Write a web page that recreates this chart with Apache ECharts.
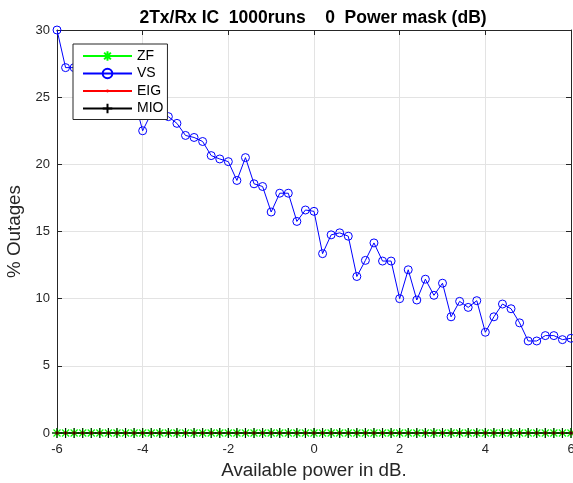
<!DOCTYPE html>
<html>
<head>
<meta charset="utf-8">
<script src="https://cdn.jsdelivr.net/npm/echarts@6/dist/echarts.min.js"></script>
<style>
  html, body { margin: 0; padding: 0; background: #fff; }
  #chart { width: 573px; height: 483px; }
</style>
</head>
<body>
<div id="chart"></div>
<script>
// available power (dB), one run every 0.2 dB
const powerDb = [
  -6.0, -5.8, -5.6, -5.4, -5.2, -5.0, -4.8, -4.6, -4.4, -4.2,
  -4.0, -3.8, -3.6, -3.4, -3.2, -3.0, -2.8, -2.6, -2.4, -2.2,
  -2.0, -1.8, -1.6, -1.4, -1.2, -1.0, -0.8, -0.6, -0.4, -0.2,
   0.0,  0.2,  0.4,  0.6,  0.8,  1.0,  1.2,  1.4,  1.6,  1.8,
   2.0,  2.2,  2.4,  2.6,  2.8,  3.0,  3.2,  3.4,  3.6,  3.8,
   4.0,  4.2,  4.4,  4.6,  4.8,  5.0,  5.2,  5.4,  5.6,  5.8,
   6.0
];

// % outages per scheme
const zf = [
  0, 0, 0, 0, 0, 0, 0, 0, 0, 0, 0, 0, 0, 0, 0, 0, 0, 0, 0, 0,
  0, 0, 0, 0, 0, 0, 0, 0, 0, 0, 0, 0, 0, 0, 0, 0, 0, 0, 0, 0,
  0, 0, 0, 0, 0, 0, 0, 0, 0, 0, 0, 0, 0, 0, 0, 0, 0, 0, 0, 0, 0
];
const vs = [
  30.0, 27.2, 27.2, 26.9, 26.3, 26.6, 25.8, 25.9, 25.2, 24.9,
  22.5, 23.8, 24.0, 23.55, 23.05, 22.15, 22.0, 21.7, 20.65, 20.4,
  20.2, 18.8, 20.5, 18.55, 18.35, 16.45, 17.85, 17.85, 15.75, 16.6,
  16.5, 13.35, 14.75, 14.9, 14.65, 11.65, 12.85, 14.15, 12.8, 12.8,
  10.0, 12.15, 9.9, 11.45, 10.25, 11.15, 8.65, 9.8, 9.35, 9.85,
  7.5, 8.65, 9.6, 9.25, 8.2, 6.85, 6.85, 7.25, 7.25, 6.95,
  7.05
];
const eig = [
  0, 0, 0, 0, 0, 0, 0, 0, 0, 0, 0, 0, 0, 0, 0, 0, 0, 0, 0, 0,
  0, 0, 0, 0, 0, 0, 0, 0, 0, 0, 0, 0, 0, 0, 0, 0, 0, 0, 0, 0,
  0, 0, 0, 0, 0, 0, 0, 0, 0, 0, 0, 0, 0, 0, 0, 0, 0, 0, 0, 0, 0
];
const mio = [
  0, 0, 0, 0, 0, 0, 0, 0, 0, 0, 0, 0, 0, 0, 0, 0, 0, 0, 0, 0,
  0, 0, 0, 0, 0, 0, 0, 0, 0, 0, 0, 0, 0, 0, 0, 0, 0, 0, 0, 0,
  0, 0, 0, 0, 0, 0, 0, 0, 0, 0, 0, 0, 0, 0, 0, 0, 0, 0, 0, 0, 0
];

const pairs = (ys) => powerDb.map((x, i) => [x, ys[i]]);

const FONT = '"Liberation Sans", Arial, Helvetica, sans-serif';
const AXIS = '#262626';

// matlab-style marker shapes
const ASTERISK = 'path://M10,0L10,20M0,10L20,10M3,3L17,17M3,17L17,3';
const PLUS = 'path://M10,0L10,20M0,10L20,10';
// small dot inside a bigger box so the legend keeps it small
const DOT = 'path://M0,0M20,20M7,10A3,3,0,1,0,13,10A3,3,0,1,0,7,10Z';

const chart = echarts.init(document.getElementById('chart'), null, { renderer: 'canvas' });

const boxAxis = {
  axisLine: { show: true, onZero: false, lineStyle: { color: AXIS, width: 1 } },
  axisTick: { show: true, inside: true, length: 5, lineStyle: { color: AXIS } },
  axisLabel: { show: false },
  splitLine: { show: false }
};

chart.setOption({
  animation: false,
  backgroundColor: '#fff',
  title: {
    text: '2Tx/Rx IC  1000runs    0  Power mask (dB)',
    left: 308,
    textAlign: 'center',
    top: 4,
    textStyle: { fontFamily: FONT, fontSize: 17.5, fontWeight: 'bold', color: '#000' }
  },
  grid: { left: 57, right: 2, top: 30, bottom: 50, containLabel: false, outerBoundsMode: 'none' },
  legend: {
    orient: 'vertical',
    left: 73,
    top: 44,
    padding: [5, 4, 4, 9],
    itemWidth: 49,
    itemHeight: 12,
    itemGap: 3.5,
    backgroundColor: '#fff',
    borderColor: AXIS,
    borderWidth: 1,
    borderRadius: 0,
    textStyle: { fontFamily: FONT, fontSize: 14, color: '#000' },
    data: ['ZF', 'VS', 'EIG', 'MIO']
  },
  xAxis: [
    {
      type: 'value', min: -6, max: 6, interval: 2,
      name: 'Available power in dB.',
      nameLocation: 'middle',
      nameGap: 28,
      nameTextStyle: { fontFamily: FONT, fontSize: 18.8, color: AXIS },
      axisLine: { show: true, onZero: false, lineStyle: { color: AXIS, width: 1 } },
      axisTick: { show: true, inside: true, length: 5, lineStyle: { color: AXIS } },
      axisLabel: { fontFamily: FONT, fontSize: 13, color: AXIS, margin: 10 },
      splitLine: { show: true, lineStyle: { color: '#e3e3e3', width: 1 } }
    },
    Object.assign({ type: 'value', min: -6, max: 6, interval: 2, position: 'top' }, boxAxis)
  ],
  yAxis: [
    {
      type: 'value', min: 0, max: 30, interval: 5,
      name: '% Outages',
      nameLocation: 'middle',
      nameGap: 31,
      nameTextStyle: { fontFamily: FONT, fontSize: 18.8, color: AXIS },
      axisLine: { show: true, onZero: false, lineStyle: { color: AXIS, width: 1 } },
      axisTick: { show: true, inside: true, length: 5, lineStyle: { color: AXIS } },
      axisLabel: { fontFamily: FONT, fontSize: 13, color: AXIS, margin: 7 },
      splitLine: { show: true, lineStyle: { color: '#e3e3e3', width: 1 } }
    },
    Object.assign({ type: 'value', min: 0, max: 30, interval: 5, position: 'right' }, boxAxis)
  ],
  series: [
    {
      name: 'ZF', type: 'line', data: pairs(zf), clip: false,
      symbol: ASTERISK, symbolSize: 10, showAllSymbol: true,
      lineStyle: { color: '#00ff00', width: 1 },
      itemStyle: { color: '#00ff00', borderColor: '#00ff00', borderWidth: 1.2 }
    },
    {
      name: 'VS', type: 'line', data: pairs(vs), clip: false,
      symbol: 'circle', symbolSize: 8, showAllSymbol: true,
      lineStyle: { color: '#0000ff', width: 1 },
      itemStyle: { color: 'rgba(255,255,255,0)', borderColor: '#0000ff', borderWidth: 1 }
    },
    {
      name: 'EIG', type: 'line', data: pairs(eig), clip: false,
      symbol: DOT, symbolSize: 12, showAllSymbol: true,
      lineStyle: { color: '#ff0000', width: 1 },
      itemStyle: { color: '#ff0000' }
    },
    {
      name: 'MIO', type: 'line', data: pairs(mio), clip: false,
      symbol: PLUS, symbolSize: 10, showAllSymbol: true,
      lineStyle: { color: '#000000', width: 1 },
      itemStyle: { color: '#000000', borderColor: '#000000', borderWidth: 1 }
    }
  ]
});
</script>
</body>
</html>
